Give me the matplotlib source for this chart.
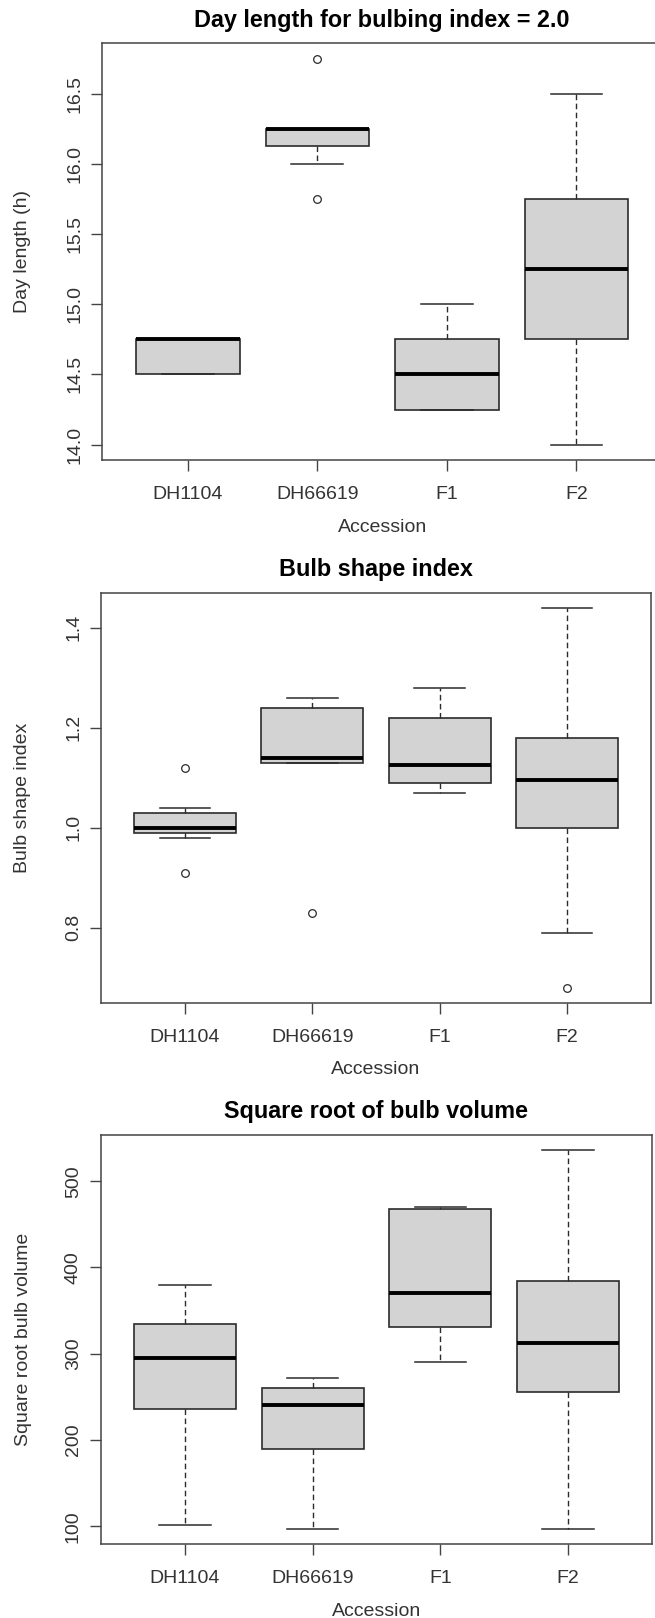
import matplotlib
matplotlib.use("Agg")
import matplotlib.pyplot as plt

plt.rcParams['font.family'] = ['Liberation Sans', 'DejaVu Sans']

accessions = ["DH1104", "DH66619", "F1", "F2"]

# day length for bulbing index = 2.0
day_q1 = [14.5, 16.125, 14.25, 14.75]
day_med = [14.75, 16.25, 14.5, 15.25]
day_q3 = [14.75, 16.25, 14.75, 15.75]
day_lo = [14.5, 16.0, 14.25, 14.0]
day_hi = [14.75, 16.25, 15.0, 16.5]
day_out = [[], [15.75, 16.75], [], []]
day_ticks = [14.0, 14.5, 15.0, 15.5, 16.0, 16.5]

# bulb shape index
shape_q1 = [0.99, 1.13, 1.09, 1.00]
shape_med = [1.00, 1.14, 1.125, 1.095]
shape_q3 = [1.03, 1.24, 1.22, 1.18]
shape_lo = [0.98, 1.13, 1.07, 0.79]
shape_hi = [1.04, 1.26, 1.28, 1.44]
shape_out = [[0.91, 1.12], [0.83], [], [0.68]]
shape_ticks = [0.8, 1.0, 1.2, 1.4]

# square root of bulb volume
vol_q1 = [236, 189, 331, 256]
vol_med = [295, 240, 370, 312]
vol_q3 = [334, 260, 468, 384]
vol_lo = [101, 97, 290, 97]
vol_hi = [380, 272, 470, 536]
vol_out = [[], [], [], []]
vol_ticks = [100, 200, 300, 400, 500]

W, H = 655, 1618
fig = plt.figure(figsize=(W / 100, H / 100), dpi=100)

EDGE = '#2b2b2b'
TXT = '#333333'


def rect(l, t, r, b):
    return [l / W, 1 - b / H, (r - l) / W, (b - t) / H]


def panel(box, title, ylabel, q1, med, q3, lo, hi, out, ticks, fmt):
    ax = fig.add_axes(rect(*box))
    stats = []
    for i in range(len(accessions)):
        stats.append(dict(q1=q1[i], med=med[i], q3=q3[i],
                          whislo=lo[i], whishi=hi[i], fliers=out[i]))
    ax.bxp(stats, positions=[1, 2, 3, 4], widths=0.8, capwidths=0.4,
           patch_artist=True,
           boxprops=dict(facecolor='#d3d3d3', edgecolor=EDGE, linewidth=1.2),
           medianprops=dict(color='black', linewidth=2.8, solid_capstyle='butt'),
           whiskerprops=dict(color=EDGE, linewidth=1.0, linestyle=(0, (4, 2.5))),
           capprops=dict(color=EDGE, linewidth=1.1),
           flierprops=dict(marker='o', markerfacecolor='none',
                           markeredgecolor=EDGE, markersize=5.5,
                           markeredgewidth=0.9))
    # R style limits: 4% padding
    ymin = min(lo + sum(out, []))
    ymax = max(hi + sum(out, []))
    pad = 0.04 * (ymax - ymin)
    ax.set_ylim(ymin - pad, ymax + pad)
    ax.set_xlim(0.5 - 0.16, 4.5 + 0.16)

    ax.set_xticks([1, 2, 3, 4], accessions, color=TXT, fontsize=14)
    ax.set_yticks(ticks, [fmt % t for t in ticks], color=TXT, fontsize=14,
                  rotation=90, va='center')
    ax.tick_params(axis='both', length=7.9, width=1.0, color='#444444')
    ax.tick_params(axis='x', pad=11)
    ax.tick_params(axis='y', pad=5.7)
    for s in ax.spines.values():
        s.set_color('#444444')
        s.set_linewidth(1.1)

    ax.set_title(title, fontsize=16.8, fontweight='bold', pad=12)
    hpx = box[3] - box[1]
    wpx = box[2] - box[0]
    ax.set_xlabel("Accession", fontsize=14, color=TXT, va='center')
    ax.xaxis.set_label_coords(0.5, -67 / hpx)
    ax.set_ylabel(ylabel, fontsize=14, color=TXT, va='center')
    ax.yaxis.set_label_coords((23 - box[0]) / wpx, 0.5)
    return ax


panel((102.3, 43.4, 662, 460), "Day length for bulbing index = 2.0",
      "Day length (h)", day_q1, day_med, day_q3, day_lo, day_hi, day_out,
      day_ticks, "%.1f")
panel((101, 592.7, 651, 1002.7), "Bulb shape index",
      "Bulb shape index", shape_q1, shape_med, shape_q3, shape_lo, shape_hi,
      shape_out, shape_ticks, "%.1f")
panel((100.7, 1135, 652.3, 1544), "Square root of bulb volume",
      "Square root bulb volume", vol_q1, vol_med, vol_q3, vol_lo, vol_hi,
      vol_out, vol_ticks, "%d")

fig.savefig("out.png", dpi=100)
